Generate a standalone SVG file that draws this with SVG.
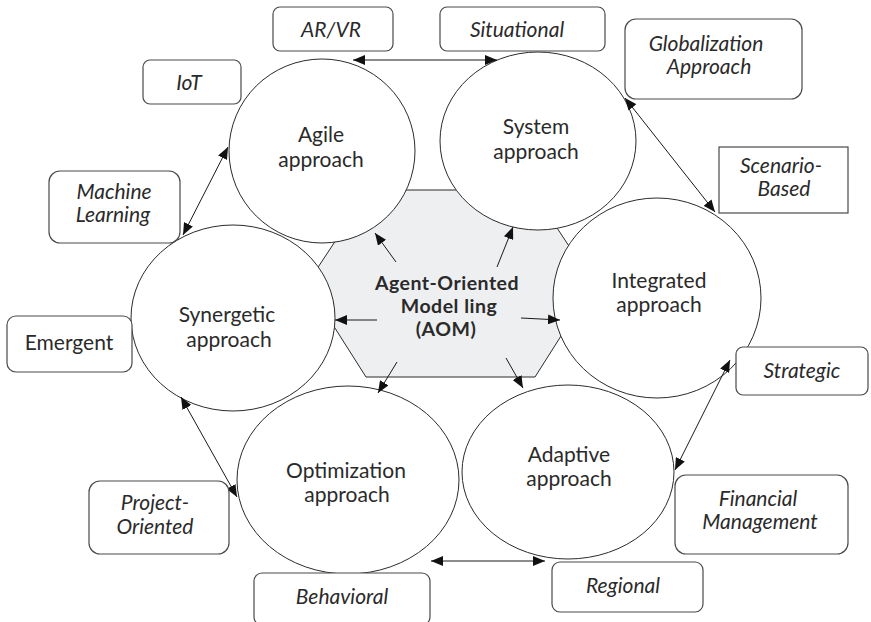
<svg xmlns="http://www.w3.org/2000/svg" width="871" height="622" viewBox="0 0 871 622">
  <style>
    .hex { fill: #eeeff1; stroke: #2b2b2b; stroke-width: 1; }
    .node { fill: #ffffff; stroke: #2b2b2b; stroke-width: 1; }
    .box { fill: #ffffff; stroke: #4a4a4a; stroke-width: 1.2; }
    .lbl { font-family: Lato, "Open Sans", "Liberation Sans", sans-serif; font-size: 21px; fill: #2a2a2a; text-anchor: middle; }
    .tag { font-family: Lato, "Open Sans", "Liberation Sans", sans-serif; font-size: 21px; font-style: italic; fill: #2a2a2a; text-anchor: middle; }
    .tag.up { font-style: normal; }
    .core { font-family: Lato, "Open Sans", "Liberation Sans", sans-serif; font-size: 19.5px; font-weight: bold; letter-spacing: 0.5px; fill: #2a2a2a; text-anchor: middle; }
    .link { fill: none; stroke: #1a1a1a; stroke-width: 1; }
  </style>
  <defs>
    <marker id="tip" viewBox="0 0 12 10" refX="12" refY="5" markerWidth="12" markerHeight="10" markerUnits="userSpaceOnUse" orient="auto-start-reverse">
      <path d="M0,0 L12,5 L0,10 z" fill="#111111"/>
    </marker>
  </defs>

  <!-- central hexagon -->
  <g id="aom-hex">
    <polygon class="hex" points="369,190 532,190 594,284 535,377 366,377 307,284"/>
  </g>

  <!-- approach ellipses -->
  <g id="agile">
    <ellipse class="node" cx="322" cy="151" rx="93" ry="92"/>
    <text class="lbl" x="321" y="142">Agile</text>
    <text class="lbl" x="321" y="167">approach</text>
  </g>
  <g id="system">
    <ellipse class="node" cx="538" cy="141" rx="98" ry="89"/>
    <text class="lbl" x="536" y="134">System</text>
    <text class="lbl" x="536" y="159">approach</text>
  </g>
  <g id="integrated">
    <ellipse class="node" cx="657" cy="298" rx="104" ry="100"/>
    <text class="lbl" x="659" y="288">Integrated</text>
    <text class="lbl" x="659" y="312">approach</text>
  </g>
  <g id="adaptive">
    <ellipse class="node" cx="568" cy="472" rx="106" ry="87"/>
    <text class="lbl" x="569" y="462">Adaptive</text>
    <text class="lbl" x="569" y="486">approach</text>
  </g>
  <g id="optimization">
    <ellipse class="node" cx="348" cy="480" rx="111" ry="94"/>
    <text class="lbl" x="346" y="478">Optimization</text>
    <text class="lbl" x="347" y="502">approach</text>
  </g>
  <g id="synergetic">
    <ellipse class="node" cx="233" cy="318" rx="102" ry="93"/>
    <text class="lbl" x="227" y="322">Synergetic</text>
    <text class="lbl" x="229" y="347">approach</text>
  </g>

  <!-- central label -->
  <g id="aom-label">
    <text class="core" x="447" y="290">Agent-Oriented</text>
    <text class="core" x="449" y="313">Model ling</text>
    <text class="core" x="446" y="336">(AOM)</text>
  </g>

  <!-- connectors -->
  <g id="connectors">
    <path class="link" d="M353,60 H497" marker-start="url(#tip)" marker-end="url(#tip)"/>
    <path class="link" d="M625,98 L715,212" marker-start="url(#tip)" marker-end="url(#tip)"/>
    <path class="link" d="M730,360 L675,470" marker-start="url(#tip)" marker-end="url(#tip)"/>
    <path class="link" d="M431,561 H545" marker-start="url(#tip)" marker-end="url(#tip)"/>
    <path class="link" d="M181,397 L237,497" marker-start="url(#tip)" marker-end="url(#tip)"/>
    <path class="link" d="M228,147 L183,235" marker-start="url(#tip)" marker-end="url(#tip)"/>
    <path class="link" d="M396,262 L375,233" marker-end="url(#tip)"/>
    <path class="link" d="M497,267 L513,227" marker-end="url(#tip)"/>
    <path class="link" d="M377,320 L335,320" marker-end="url(#tip)"/>
    <path class="link" d="M521,318 L560,320" marker-end="url(#tip)"/>
    <path class="link" d="M397,362 L378,393" marker-end="url(#tip)"/>
    <path class="link" d="M506,358 L523,388" marker-end="url(#tip)"/>
  </g>

  <!-- attribute boxes -->
  <g id="ar-vr">
    <rect class="box" x="273" y="7" width="120" height="44" rx="7"/>
    <text class="tag" x="331" y="37">AR/VR</text>
  </g>
  <g id="situational">
    <rect class="box" x="440" y="7" width="165" height="44" rx="7"/>
    <text class="tag" x="517" y="37">Situational</text>
  </g>
  <g id="globalization">
    <rect class="box" x="625" y="19" width="177" height="80" rx="11"/>
    <text class="tag" x="706" y="51">Globalization</text>
    <text class="tag" x="709" y="74">Approach</text>
  </g>
  <g id="iot">
    <rect class="box" x="143" y="60" width="98" height="44" rx="7"/>
    <text class="tag" x="189" y="90">IoT</text>
  </g>
  <g id="scenario">
    <rect class="box" x="719" y="147" width="129" height="66"/>
    <text class="tag" x="781" y="173">Scenario-</text>
    <text class="tag" x="784" y="196">Based</text>
  </g>
  <g id="machine-learning">
    <rect class="box" x="49" y="171" width="131" height="72" rx="11"/>
    <text class="tag" x="114" y="199">Machine</text>
    <text class="tag" x="113" y="222">Learning</text>
  </g>
  <g id="emergent">
    <rect class="box" x="7" y="316" width="125" height="56" rx="9"/>
    <text class="tag up" x="69" y="350">Emergent</text>
  </g>
  <g id="strategic">
    <rect class="box" x="736" y="347" width="132" height="48" rx="7"/>
    <text class="tag" x="802" y="378">Strategic</text>
  </g>
  <g id="financial">
    <rect class="box" x="675" y="475" width="173" height="79" rx="11"/>
    <text class="tag" x="758" y="506">Financial</text>
    <text class="tag" x="760" y="529">Management</text>
  </g>
  <g id="regional">
    <rect class="box" x="552" y="562" width="151" height="50" rx="8"/>
    <text class="tag" x="623" y="593">Regional</text>
  </g>
  <g id="behavioral">
    <rect class="box" x="254" y="573" width="176" height="52" rx="8"/>
    <text class="tag" x="342" y="604">Behavioral</text>
  </g>
  <g id="project-oriented">
    <rect class="box" x="89" y="481" width="140" height="73" rx="11"/>
    <text class="tag" x="155" y="510">Project-</text>
    <text class="tag" x="155" y="534">Oriented</text>
  </g>
</svg>
